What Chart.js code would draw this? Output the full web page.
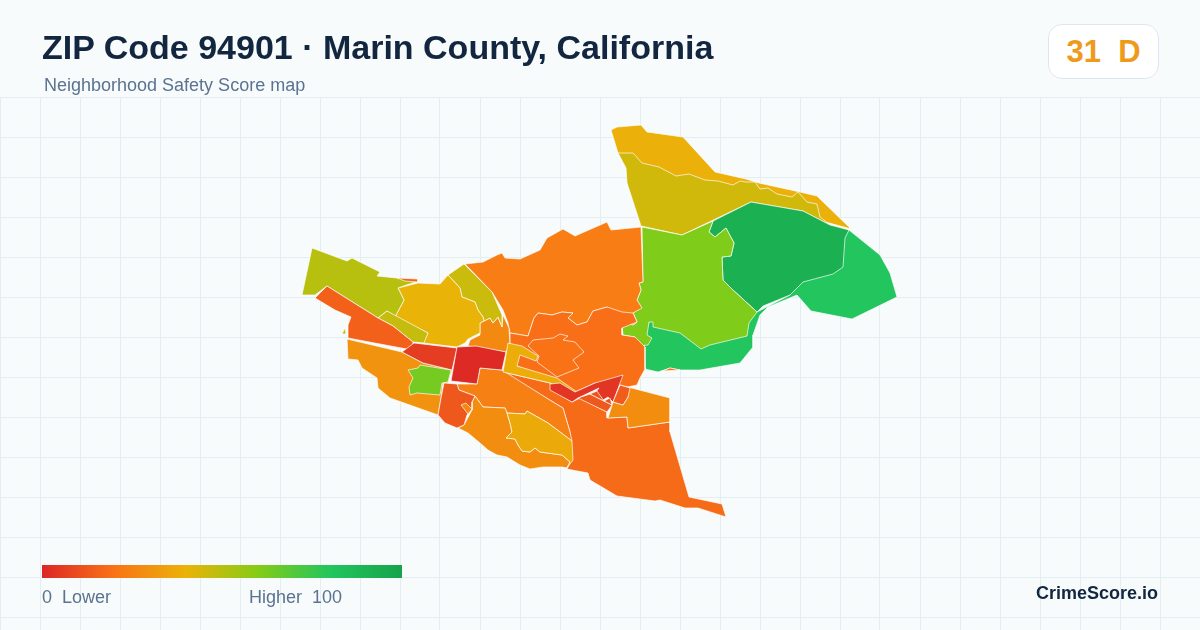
<!DOCTYPE html>
<html>
<head>
<meta charset="utf-8">
<title>ZIP Code 94901 · Marin County, California</title>
<script src="https://cdn.jsdelivr.net/npm/chart.js@4/dist/chart.umd.min.js"></script>
<style>
  html, body { margin: 0; padding: 0; background: #f8fbfc; }
  #page { position: relative; width: 1200px; height: 630px; overflow: hidden; font-family: "Liberation Sans", Arial, sans-serif; }
  #map { position: absolute; left: 0; top: 0; }
  #page div { position: absolute; white-space: pre; }
  #title { left: 42px; top: 27px; font-size: 34px; line-height: 40px; font-weight: 700; color: #12263f; }
  #subtitle { left: 44px; top: 75px; font-size: 18px; line-height: 20px; color: #5a7390; }
  #badge { left: 1048px; top: 24px; width: 109px; height: 53px; line-height: 54px; text-align: center; background: #fff; border: 1px solid #dde6ef; border-radius: 14px; font-size: 31px; font-weight: 700; color: #ee9a1a; }
  #ramp { left: 42px; top: 565px; width: 360px; height: 13px; }
  #low { left: 42px; top: 587px; font-size: 18px; line-height: 20px; color: #5a7390; }
  #high { left: 249px; top: 587px; font-size: 18px; line-height: 20px; color: #5a7390; }
  #brand { right: 42px; top: 582px; font-size: 18px; line-height: 22px; font-weight: 700; color: #12263f; }
</style>
</head>
<body>
<div id="page">
  <canvas id="map" width="1200" height="630"></canvas>
  <div id="title">ZIP Code 94901 · Marin County, California</div>
  <div id="subtitle">Neighborhood Safety Score map</div>
  <div id="badge">31  D</div>
  <div id="ramp"></div>
  <div id="low">0  Lower</div>
  <div id="high">Higher  100</div>
  <div id="brand">CrimeScore.io</div>
</div>
<script>
const scoreStops = [0, 20, 40, 60, 80, 100];
const scoreColors = ["#dc2626", "#f97316", "#eab308", "#84cc16", "#22c55e", "#16a34a"];
const gridRows = [97, 137, 177, 217, 257, 297, 337, 377, 417, 457, 497, 537, 577, 617];

// neighborhood outlines, in map units
const northStrip = [[611,130],[617,127],[641,125],[647,132],[683,137],[715,172],[746,179],[759,183],[800,192],[817,196],[851,229],[800,215],[700,190],[640,165],[618,153]];
const northValley = [[618,153],[633,153],[642,163],[659,167],[676,176],[689,174],[705,180],[718,181],[733,185],[740,181],[746,182],[755,182],[760,189],[768,188],[777,194],[792,197],[798,192],[807,202],[817,204],[820,217],[833,227],[850,229],[830,225],[803,211],[751,202],[682,235],[641,226],[627,183],[626,168]];
const eastShore = [[849,230],[880,255],[890,273],[897,297],[852,319],[811,311],[797,295],[768,307],[760,315],[753,335],[753,347],[740,363],[700,370],[680,370],[670,368],[658,372],[645,369],[644,347],[646,330],[649,322],[700,300],[757,312],[790,295]];
const eastHills = [[751,202],[803,211],[830,225],[849,230],[845,238],[843,267],[833,274],[803,282],[790,295],[763,306],[757,312],[733,290],[723,280],[722,257],[731,256],[734,243],[726,228],[715,237],[709,232],[713,221]];
const centerEast = [[642,227],[682,235],[713,221],[709,232],[715,237],[726,228],[734,243],[731,256],[722,257],[723,280],[733,290],[757,312],[749,323],[747,336],[710,345],[701,349],[680,333],[653,327],[653,322],[649,322],[647,335],[652,338],[648,345],[638,346],[635,337],[623,335],[622,325],[627,321],[633,325],[637,322],[633,313],[641,307],[637,300],[641,290],[639,283],[643,282]];
const shoreSliver = [[663,371],[670,368],[680,370]];
const northRidge = [[465,264],[483,262],[497,255],[502,253],[505,258],[520,259],[540,250],[547,238],[563,229],[575,236],[607,222],[611,230],[641,227],[643,282],[639,283],[641,290],[637,300],[642,308],[633,313],[637,322],[633,325],[625,322],[622,328],[607,307],[593,311],[587,322],[577,325],[568,318],[573,313],[562,312],[552,315],[538,313],[534,318],[528,336],[510,333],[508,323],[503,310],[492,292]];
const centerSouth = [[528,336],[534,318],[538,313],[552,315],[562,312],[573,313],[568,318],[577,325],[587,322],[593,311],[607,307],[622,312],[633,313],[637,322],[622,328],[622,335],[635,337],[645,347],[645,369],[640,378],[637,385],[628,387],[620,385],[595,383],[575,392],[558,382],[517,366],[510,343],[510,333]];
const centerBlob = [[528,346],[533,340],[553,338],[560,334],[568,336],[563,340],[575,342],[584,352],[573,360],[579,368],[557,377],[537,362],[539,356]];
const westPocket = [[484,321],[490,318],[493,323],[498,317],[502,327],[503,315],[509,328],[510,345],[506,352],[468,346],[470,340],[480,335],[480,323]];
const northwestSlope = [[464,264],[448,275],[460,288],[462,297],[475,302],[478,310],[483,317],[484,321],[490,318],[493,323],[498,317],[502,327],[502,315],[492,292]];
const westCenter = [[448,275],[440,284],[418,283],[398,288],[404,300],[395,317],[428,333],[423,343],[457,347],[465,343],[468,339],[480,333],[480,323],[484,321],[483,317],[478,310],[475,302],[462,297],[460,288]];
const westRidge = [[312,248],[347,261],[352,258],[380,272],[377,276],[397,278],[418,281],[398,288],[404,300],[395,317],[387,311],[378,318],[327,286],[315,295],[302,295]];
const westStrip = [[387,311],[428,333],[424,343],[413,342],[393,326],[378,318]];
const westSliver = [[345,328],[346,334],[342,334]];
const ridgeFleck = [[397,278],[418,279],[418,282],[405,281]];
const westValley = [[327,286],[378,318],[393,326],[413,342],[412,350],[348,338],[348,325],[351,317],[335,310],[315,298]];
const southwestCoast = [[347,339],[402,352],[423,363],[452,370],[448,383],[443,383],[441,398],[438,415],[390,398],[378,388],[377,378],[362,368],[358,360],[348,359]];
const westCore = [[402,352],[414,343],[457,348],[452,370],[423,363]];
const westPark = [[420,365],[451,370],[448,382],[442,383],[440,395],[417,393],[410,395],[409,387],[413,378],[408,370],[418,368]];
const southPoint = [[503,372],[550,383],[556,392],[572,402],[580,398],[607,412],[607,418],[627,417],[628,428],[670,422],[670,432],[689,497],[722,504],[726,517],[698,508],[685,508],[660,500],[655,501],[617,496],[590,480],[588,473],[572,470],[567,469],[572,458],[570,432],[563,408],[553,402]];
const southUpper = [[480,368],[502,370],[553,402],[563,408],[570,432],[572,441],[548,423],[527,411],[525,414],[507,413],[505,408],[483,407],[475,396],[459,390],[457,384],[477,384]];
const southLower = [[475,396],[483,407],[505,408],[507,413],[510,423],[512,432],[506,438],[515,439],[518,445],[522,451],[530,452],[535,448],[540,452],[562,455],[570,462],[567,468],[562,467],[543,467],[530,469],[520,465],[507,457],[497,455],[488,450],[480,443],[468,433],[458,428],[464,425],[472,410],[472,402]];
const southHill = [[507,413],[525,414],[527,411],[548,423],[572,441],[573,460],[567,468],[570,462],[562,455],[540,452],[535,448],[530,452],[522,451],[518,445],[515,439],[506,438],[512,432],[510,423]];
const canalWest = [[444,383],[457,384],[459,390],[475,396],[472,402],[472,410],[467,415],[464,425],[457,428],[445,423],[438,415],[441,398]];
const canalNotch = [[461,405],[468,414],[472,409],[466,403]];
const downtown = [[457,347],[476,346],[506,352],[502,370],[480,368],[477,384],[451,381]];
const yellowBand = [[508,343],[522,346],[538,356],[536,361],[520,355],[517,366],[557,378],[577,392],[572,392],[550,383],[503,372]];
const canalRed = [[550,384],[560,383],[575,392],[595,383],[623,375],[613,402],[608,397],[603,400],[596,392],[599,388],[578,398],[572,402],[550,390]];
const stripeOne = [[578,398],[590,394],[612,405],[607,412]];
const stripeTwo = [[590,394],[597,391],[604,401],[610,398],[612,405]];
const eastBox = [[628,387],[670,398],[670,422],[628,428],[627,417],[608,418],[613,402],[623,405],[628,397]];
const eastPocket = [[620,385],[630,388],[628,397],[623,405],[613,402]];

// painted in this order, later ones lie on top
const regions = [northStrip, northValley, eastShore, eastHills, centerEast, shoreSliver, northRidge, centerSouth, centerBlob, westPocket, northwestSlope, westCenter, westRidge, westStrip, westSliver, ridgeFleck, westValley, southwestCoast, westCore, westPark, southPoint, southUpper, southLower, southHill, canalWest, canalNotch, downtown, yellowBand, canalRed, stripeOne, stripeTwo, eastBox, eastPocket];
const regionScores = [39, 45, 80, 92, 61, 18, 23, 19, 20, 27, 46, 40, 50, 47, 50, 16, 15, 30, 6, 63, 18, 24, 28, 37, 13, 27, 1, 38, 4, 13, 12, 28, 14];

function hexToRgb(hex) {
  return [1, 3, 5].map((i) => parseInt(hex.slice(i, i + 2), 16));
}

function scoreColor(score) {
  let i = 0;
  while (i < scoreStops.length - 2 && score > scoreStops[i + 1]) i++;
  const t = (score - scoreStops[i]) / (scoreStops[i + 1] - scoreStops[i]);
  const a = hexToRgb(scoreColors[i]);
  const b = hexToRgb(scoreColors[i + 1]);
  const rgb = a.map((v, k) => Math.round(v + (b[k] - v) * t));
  return `rgb(${rgb.join(",")})`;
}

document.getElementById("ramp").style.background =
  `linear-gradient(90deg, ${scoreColors.map((c, i) => `${c} ${scoreStops[i]}%`).join(", ")})`;

// chart.js draws dataset 0 last, so flip the list
const datasets = regions.map((shape, i) => ({
  data: [...shape, shape[0]].map(([x, y]) => ({ x, y })),
  showLine: true,
  fill: "shape",
  tension: 0,
  pointRadius: 0,
  borderWidth: 0.8,
  borderColor: "rgba(255,255,255,0.85)",
  backgroundColor: scoreColor(regionScores[i]),
})).reverse();

new Chart(document.getElementById("map"), {
  type: "scatter",
  data: { datasets },
  options: {
    responsive: false,
    animation: false,
    events: [],
    layout: { autoPadding: false, padding: { top: 97 } },
    plugins: { legend: { display: false }, tooltip: { enabled: false }, title: { display: false } },
    scales: {
      x: {
        min: 0,
        max: 1200,
        border: { display: false },
        grid: { color: "#e4eef2", lineWidth: 1, drawTicks: false },
        ticks: { display: false, stepSize: 40, autoSkip: false },
      },
      y: {
        min: 97,
        max: 630,
        reverse: true,
        border: { display: false },
        grid: { color: "#e4eef2", lineWidth: 1, drawTicks: false },
        ticks: { display: false, autoSkip: false },
        afterBuildTicks: (scale) => { scale.ticks = gridRows.map((value) => ({ value })); },
      },
    },
  },
});
</script>
</body>
</html>
